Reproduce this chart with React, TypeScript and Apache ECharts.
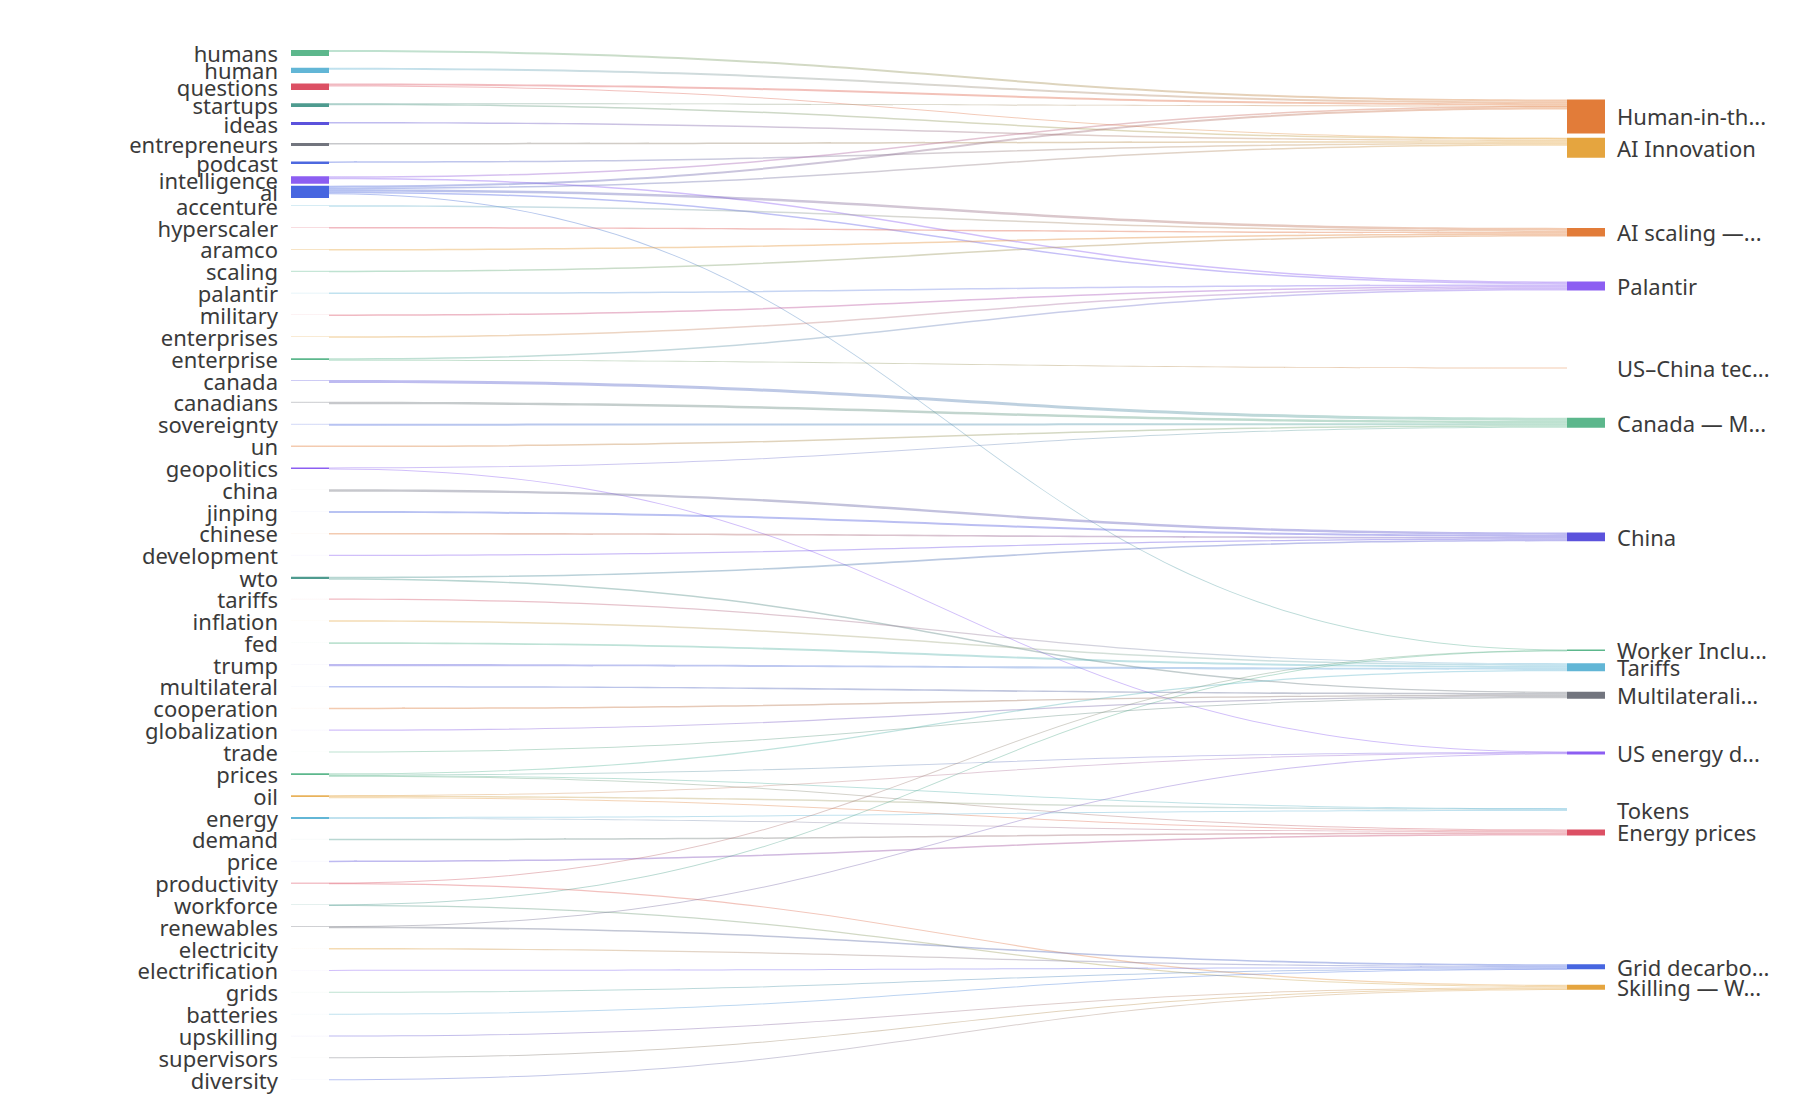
import React, { useEffect, useRef } from 'react';
import * as echarts from 'echarts';

// ---- data ----
const sourceTerms = [
  'humans', 'human', 'questions', 'startups', 'ideas', 'entrepreneurs', 'podcast', 'intelligence', 'ai', 'accenture',
  'hyperscaler', 'aramco', 'scaling', 'palantir', 'military', 'enterprises', 'enterprise', 'canada', 'canadians', 'sovereignty',
  'un', 'geopolitics', 'china', 'jinping', 'chinese', 'development', 'wto', 'tariffs', 'inflation', 'fed',
  'trump', 'multilateral', 'cooperation', 'globalization', 'trade', 'prices', 'oil', 'energy', 'demand', 'price',
  'productivity', 'workforce', 'renewables', 'electricity', 'electrification', 'grids', 'batteries', 'upskilling', 'supervisors', 'diversity',
];
// node weights (layout share of each term)
const sourceWeights = [
  15.65, 13.85, 17.7, 16.7, 19, 16.45, 12.9, 7.3, 17.55, 19.85,
  19.85, 19.85, 19.85, 19.85, 19.85, 19.85, 19.85, 19.85, 19.85, 19.85,
  19.85, 19.85, 19.85, 19.85, 19.85, 19.85, 19.85, 19.85, 19.85, 19.85,
  19.85, 19.85, 19.85, 19.85, 19.85, 19.85, 19.85, 19.85, 19.85, 19.85,
  19.85, 19.85, 19.85, 19.85, 19.85, 19.85, 19.85, 19.85, 19.85, 19.85,
];
// visible bar size of each term
const sourceMark = [
  6, 5.3, 6, 3.4, 3, 2.6, 2.7, 7.3, 12.3, 1,
  1, 1, 1, 1, 1, 1, 1.5, 1, 1, 1,
  1, 2, 1, 1, 1, 1, 2, 1, 1, 1,
  1, 1, 1, 1, 1, 1.5, 1.5, 2, 1, 1,
  1, 1, 1.2, 1, 1, 1, 1, 1, 1, 1,
];
const sourceOpacity = [
  1, 1, 1, 1, 1, 1, 1, 1, 1, 0.35,
  0.2, 0.3, 0.35, 0.1, 0.15, 0.3, 1, 0.3, 0.3, 0.2,
  0.4, 1, 0.03, 0.03, 0.03, 0.03, 1, 0.03, 0.03, 0.03,
  0.03, 0.03, 0.03, 0.03, 0.03, 1, 0.85, 1, 0.03, 0.03,
  0.35, 0.3, 0.45, 0.03, 0.03, 0.03, 0.03, 0.03, 0.03, 0.03,
];

const topicNames = [
  'Human-in-th...', 'AI Innovation', 'AI scaling —...', 'Palantir', 'US–China tec...',
  'Canada — M...', 'China', 'Worker Inclu...', 'Tariffs', 'Multilaterali...',
  'US energy d...', 'Tokens', 'Energy prices', 'Grid decarbo...', 'Skilling — W...',
];
const topicWeights = [34, 20, 8, 9, 1, 10, 8, 1.2, 7, 7, 3, 1, 5, 5, 5];
const topicOpacity = [1, 1, 1, 1, 0, 1, 1, 1, 1, 1, 1, 0, 1, 1, 1];

const flows: [string, string, number][] = [
  ['humans', 'Human-in-th...', 2],
  ['human', 'Human-in-th...', 2],
  ['questions', 'Human-in-th...', 2],
  ['questions', 'AI Innovation', 0.5],
  ['startups', 'Human-in-th...', 0.5],
  ['startups', 'AI Innovation', 1.5],
  ['ideas', 'AI Innovation', 1.5],
  ['entrepreneurs', 'AI Innovation', 1.5],
  ['podcast', 'AI Innovation', 1.5],
  ['intelligence', 'Human-in-th...', 1.5],
  ['intelligence', 'Palantir', 1.5],
  ['ai', 'Human-in-th...', 2],
  ['ai', 'AI Innovation', 1.5],
  ['ai', 'AI scaling —...', 2.5],
  ['ai', 'Palantir', 1.5],
  ['ai', 'Worker Inclu...', 0.5],
  ['accenture', 'AI scaling —...', 1.5],
  ['hyperscaler', 'AI scaling —...', 1.5],
  ['aramco', 'AI scaling —...', 1.5],
  ['scaling', 'AI scaling —...', 1.5],
  ['palantir', 'Palantir', 1.5],
  ['military', 'Palantir', 1.5],
  ['enterprises', 'Palantir', 1.5],
  ['enterprise', 'Palantir', 1.5],
  ['enterprise', 'US–China tec...', 1],
  ['canada', 'Canada — M...', 3],
  ['canadians', 'Canada — M...', 2.5],
  ['sovereignty', 'Canada — M...', 2],
  ['un', 'Canada — M...', 1.5],
  ['geopolitics', 'Canada — M...', 1],
  ['geopolitics', 'US energy d...', 0.4],
  ['china', 'China', 2.4],
  ['jinping', 'China', 2],
  ['chinese', 'China', 1.6],
  ['development', 'China', 1.2],
  ['wto', 'China', 1.6],
  ['wto', 'Multilaterali...', 1.4],
  ['tariffs', 'Tariffs', 1.2],
  ['inflation', 'Tariffs', 1.5],
  ['fed', 'Tariffs', 1.9],
  ['trump', 'Tariffs', 2.2],
  ['multilateral', 'Multilaterali...', 1.6],
  ['cooperation', 'Multilaterali...', 1.4],
  ['globalization', 'Multilaterali...', 1.2],
  ['trade', 'Multilaterali...', 1],
  ['prices', 'Energy prices', 1],
  ['prices', 'US energy d...', 0.8],
  ['prices', 'Tariffs', 1.2],
  ['prices', 'Tokens', 0.4],
  ['oil', 'Energy prices', 1],
  ['oil', 'US energy d...', 0.6],
  ['oil', 'Tokens', 1.5],
  ['energy', 'Tokens', 1],
  ['energy', 'Energy prices', 1],
  ['demand', 'Energy prices', 1.5],
  ['price', 'Energy prices', 1.5],
  ['productivity', 'Worker Inclu...', 0.45],
  ['productivity', 'Skilling — W...', 1.2],
  ['workforce', 'Worker Inclu...', 0.45],
  ['workforce', 'Skilling — W...', 1.2],
  ['renewables', 'US energy d...', 0.3],
  ['renewables', 'Grid decarbo...', 1.6],
  ['electricity', 'Grid decarbo...', 1.3],
  ['electrification', 'Grid decarbo...', 1],
  ['grids', 'Grid decarbo...', 0.7],
  ['batteries', 'Grid decarbo...', 0.4],
  ['upskilling', 'Skilling — W...', 1],
  ['supervisors', 'Skilling — W...', 0.9],
  ['diversity', 'Skilling — W...', 0.7],
];

// ---- styles ----
const C: Record<string, string> = {
  green: '#5cb78c', cyan: '#62b6d6', red: '#dc5064', teal: '#4e9b8f', indigo: '#5b52dc',
  gray: '#72757e', blue: '#4d68df', purple: '#8c5ef2', royal: '#4766e0', orange: '#e27c39', gold: '#e5a53f',
};
const sourceColorKeys = [
  'green', 'cyan', 'red', 'teal', 'indigo', 'gray', 'blue', 'purple', 'royal', 'cyan',
  'red', 'gold', 'green', 'cyan', 'red', 'gold', 'green', 'indigo', 'gray', 'blue',
  'orange', 'purple', 'gray', 'blue', 'orange', 'purple', 'teal', 'red', 'gold', 'green',
  'indigo', 'blue', 'orange', 'purple', 'green', 'green', 'gold', 'cyan', 'teal', 'indigo',
  'red', 'teal', 'gray', 'gold', 'purple', 'green', 'cyan', 'indigo', 'gray', 'blue',
];
const topicColorKeys = [
  'orange', 'gold', 'orange', 'purple', 'orange', 'green', 'indigo', 'green', 'cyan', 'gray',
  'purple', 'cyan', 'red', 'royal', 'gold',
];

const FONT = '"Noto Sans", "Open Sans", sans-serif';

function rgba(hex: string, a: number) {
  const n = parseInt(hex.slice(1), 16);
  return `rgba(${(n >> 16) & 255},${(n >> 8) & 255},${n & 255},${a})`;
}

// node fill: a visible bar at the top of the node's band, clear below it
function markFill(hex: string, alpha: number, mark: number, weight: number) {
  const t = Math.min(1, mark / weight);
  const c = rgba(hex, alpha);
  const clear = rgba(hex, 0);
  return {
    type: 'linear', x: 0, y: 0, x2: 0, y2: 1,
    colorStops: [
      { offset: 0, color: c },
      { offset: t, color: c },
      { offset: t, color: clear },
      { offset: 1, color: clear },
    ],
  };
}

export default function App() {
  const ref = useRef<HTMLDivElement>(null);
  useEffect(() => {
    document.body.style.margin = '0';
    if (!ref.current) return;
    const chart = echarts.init(ref.current, undefined, { renderer: 'svg' });
    const colorOf: Record<string, string> = {};
    const nodes: any[] = [];
    sourceTerms.forEach((name, i) => {
      const base = C[sourceColorKeys[i]];
      colorOf[name] = base;
      const w = sourceWeights[i];
      const m = sourceMark[i];
      const partial = m < w;
      nodes.push({
        name,
        value: w,
        itemStyle: partial
          ? { color: markFill(base, sourceOpacity[i], m, w) }
          : { color: base, opacity: sourceOpacity[i] },
        label: { position: 'left', distance: 13, offset: [0, partial ? -(w - m) / 2 : 0] },
      });
    });
    topicNames.forEach((name, i) => {
      const base = C[topicColorKeys[i]];
      colorOf[name] = base;
      nodes.push({
        name,
        value: topicWeights[i],
        itemStyle: { color: base, opacity: topicOpacity[i] },
        label: { position: 'right', distance: 12 },
      });
    });
    const links = flows.map(([source, target, value]) => ({
      source,
      target,
      value,
      lineStyle: {
        color: {
          type: 'linear', x: 0, y: 0, x2: 1, y2: 0,
          colorStops: [
            { offset: 0, color: colorOf[source] },
            { offset: 1, color: colorOf[target] },
          ],
        },
      },
    }));
    chart.setOption({
      animation: false,
      backgroundColor: '#ffffff',
      series: [
        {
          type: 'sankey',
          left: 291,
          right: 205,
          top: 50.1,
          bottom: 12.95,
          nodeWidth: 38,
          nodeGap: 2,
          draggable: false,
          data: nodes,
          links,
          itemStyle: { borderWidth: 0 },
          lineStyle: { opacity: 0.4, curveness: 0.5 },
          label: { color: '#3a3a3a', fontSize: 22, fontFamily: FONT },
          emphasis: { disabled: true },
        },
      ],
    });
    return () => chart.dispose();
  }, []);
  return <div ref={ref} style={{ width: 1810, height: 1112 }} />;
}
